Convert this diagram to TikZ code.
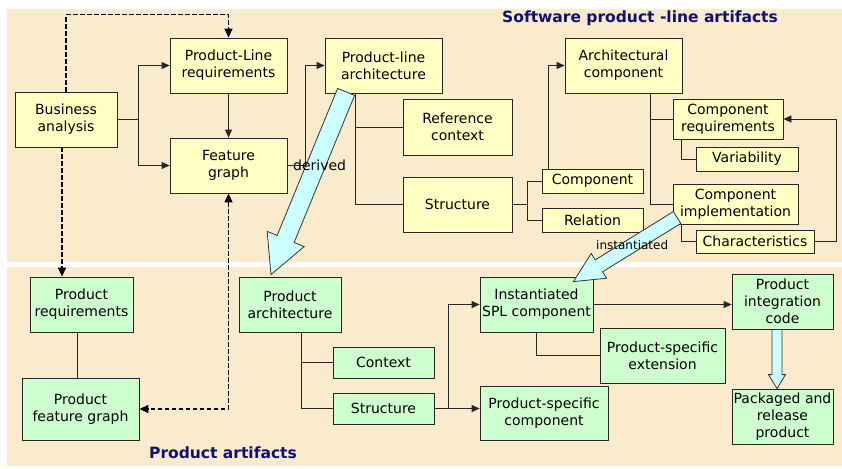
\documentclass[tikz,border=0pt]{standalone}
\usepackage{fontspec}
\setmainfont{DejaVu Sans}
\usetikzlibrary{arrows.meta,calc}
\definecolor{bgpanel}{RGB}{251,235,205}
\definecolor{ybox}{RGB}{255,255,196}
\definecolor{gbox}{RGB}{206,255,206}
\definecolor{cyanfill}{RGB}{204,255,255}
\definecolor{ttl}{RGB}{15,15,120}
\newcommand{\blockarrow}[5]{%
  \path #1 coordinate (bkS) #2 coordinate (bkT);
  \coordinate (bkB) at ($(bkT)!#5!(bkS)$);
  \draw[bigarrow] ($(bkS)!#3!90:(bkT)$) -- ($(bkB)!#3!-90:(bkS)$) -- ($(bkB)!#4!-90:(bkS)$) -- (bkT)
     -- ($(bkB)!#4!90:(bkS)$) -- ($(bkB)!#3!90:(bkS)$) -- ($(bkS)!#3!-90:(bkT)$) -- cycle;
}
\tikzset{
  box/.style={draw=black!85, line width=0.8pt, align=center, inner sep=1pt,
    font=\fontsize{14}{17}\selectfont},
  yb/.style={box, fill=ybox},
  gb/.style={box, fill=gbox},
  ln/.style={draw=black!85, line width=0.8pt},
  arr/.style={ln, -{Triangle[length=8pt,width=7pt]}},
  dsh/.style={draw=black, line width=1.3pt, dash pattern=on 4.5pt off 2.5pt},
  dtip/.style={-{Triangle[length=9pt,width=8pt]}},
  bigarrow/.style={draw=black!80, line width=0.8pt, fill=cyanfill, line join=miter},
  lbl/.style={font=\fontsize{14}{17}\selectfont, inner sep=0pt},
  ttlstyle/.style={font=\fontsize{15.5}{18}\selectfont\bfseries, text=ttl, inner sep=0pt}
}
\begin{document}
\begin{tikzpicture}[x=1pt,y=-1pt]
\useasboundingbox (0,0) rectangle (842,468);
\fill[white] (0,0) rectangle (842,468);
\fill[bgpanel] (7,9) rectangle (842,262);
\fill[bgpanel] (7,267) rectangle (842,466);

% titles
\node[ttlstyle, anchor=base west] (t1) at (502,23) {Software product -line artifacts};
\node[ttlstyle, anchor=base west] (t2) at (149,458) {Product artifacts};

% top boxes
\node[yb, minimum width=102pt, minimum height=55pt] (ba) at (66,119.5) {Business\\analysis};
\node[yb, minimum width=117pt, minimum height=55pt] (plr) at (228.5,65.5) {Product-Line\\requirements};
\node[yb, minimum width=117pt, minimum height=55pt] (fg) at (228.5,165.5) {Feature\\graph};
\node[yb, minimum width=117pt, minimum height=55pt] (pla) at (383.5,65.5) {Product-line\\architecture};
\node[yb, minimum width=109pt, minimum height=56pt] (rc) at (457.5,127) {Reference\\context};
\node[yb, minimum width=109pt, minimum height=55pt] (st1) at (457.5,204.5) {Structure};
\node[yb, minimum width=117pt, minimum height=55pt] (ac) at (623.5,65.5) {Architectural\\component};
\node[yb, minimum width=110pt, minimum height=40pt] (cr) at (728,119) {Component\\requirements};
\node[yb, minimum width=102pt, minimum height=24pt] (var) at (747,159) {Variability};
\node[yb, minimum width=101pt, minimum height=24pt] (comp) at (592.5,181) {Component};
\node[yb, minimum width=101pt, minimum height=24pt] (rel) at (592.5,220) {Relation};
\node[yb, minimum width=125pt, minimum height=40pt] (ci) at (735.5,204) {Component\\implementation};
\node[yb, minimum width=118pt, minimum height=23pt] (ch) at (755,241.5) {Characteristics};

% bottom boxes
\node[gb, minimum width=103pt, minimum height=55pt] (preq) at (81.5,304.5) {Product\\requirements};
\node[gb, minimum width=117pt, minimum height=62pt] (pfg) at (80.5,409) {Product\\feature graph};
\node[gb, minimum width=102pt, minimum height=55pt] (parch) at (290,304.5) {Product\\architecture};
\node[gb, minimum width=101pt, minimum height=31pt] (ctx) at (383.5,362.5) {Context};
\node[gb, minimum width=101pt, minimum height=31pt] (st2) at (383.5,408.5) {Structure};
\node[gb, minimum width=113pt, minimum height=55pt] (ispl) at (536.5,304.5) {Instantiated\\SPL component};
\node[gb, minimum width=128pt, minimum height=54pt] (psc) at (544,413) {Product-specific\\component};
\node[gb, minimum width=125pt, minimum height=55pt] (pse) at (662.5,355.5) {Product-specific\\extension};
\node[gb, minimum width=101pt, minimum height=55pt] (pic) at (782.5,301.5) {Product\\integration\\code};
\node[gb, minimum width=101pt, minimum height=55pt] (pkg) at (782.5,416.5) {Packaged and\\release\\product};

% top connectors
\draw[arr] (ba.east) -- ++(21,0) coordinate (j1) |- (plr.west);
\draw[arr] (j1) |- (fg.west);
\draw[arr] (plr.south) -- (fg.north);
\draw[arr] (fg.east) -- ++(18,0) |- (pla.west);
\coordinate (j2) at ($(pla.south west)+(31,0)$);
\draw[ln] (j2) |- (rc.west);
\draw[ln] (j2) |- (st1.west);
\draw[ln] (st1.east) -- ++(15,0) coordinate (j3) |- (comp.west);
\draw[ln] (j3) |- (rel.west);
\draw[arr] ($(comp.north west)+(7,0)$) |- (ac.west);
\coordinate (j4) at ($(ac.south west)+(86,0)$);
\draw[ln] (j4) |- (cr.west);
\draw[ln] (j4) |- (ci.west);
\draw[ln] ($(cr.south west)+(9,0)$) |- (var.west);
\draw[ln] ($(ci.south west)+(9,0)$) |- (ch.west);
\draw[arr] (ch.east) -- ++(22,0) |- (cr.east);

% dashed connectors
\draw[dsh, dtip] (ba.north) -- ++(0,-77) -| (plr.north);
\coordinate (d1) at ($(ba.south)+(-4,0)$);
\draw[dsh, dtip] (d1) -- (d1 |- preq.north);
\draw[dsh, {Triangle[length=9pt,width=8pt]}-{Triangle[length=9pt,width=8pt]}] (fg.south) |- (pfg.east);

% bottom connectors
\coordinate (d2) at ($(preq.south)+(-4.5,0)$);
\draw[ln] (d2) -- (d2 |- pfg.north);
\coordinate (j5) at ($(parch.south west)+(63,0)$);
\draw[ln] (j5) |- (ctx.west);
\draw[ln] (j5) |- (st2.west);
\draw[arr] (st2.east) -- ++(14,0) coordinate (j6) |- (ispl.west);
\draw[arr] (st2.east) -- (st2.east -| psc.west);
\draw[ln] (ispl.south) |- (pse.west);
\draw[arr] (ispl.east) -- (ispl.east -| pic.west);

% block arrows
\blockarrow{($(pla.south west)+(21.5,-1.5)$)}{($(parch.north)+(-19,-2)$)}{9.2pt}{20pt}{38.5pt}
\blockarrow{($(ci.west)+(4.5,13.5)$)}{($(ispl.north east)+(-20,5)$)}{7pt}{14.6pt}{30pt}
\blockarrow{($(pic.south)+(-5.5,0)$)}{($(pkg.north)+(-5.5,0)$)}{5pt}{8.5pt}{14pt}

% labels
\node[lbl, anchor=base west] (derived) at (293,170) {derived};
\node[font=\fontsize{12}{14}\selectfont, inner sep=0pt, anchor=base west] (inst) at (596,249) {instantiated};
\end{tikzpicture}
\end{document}
